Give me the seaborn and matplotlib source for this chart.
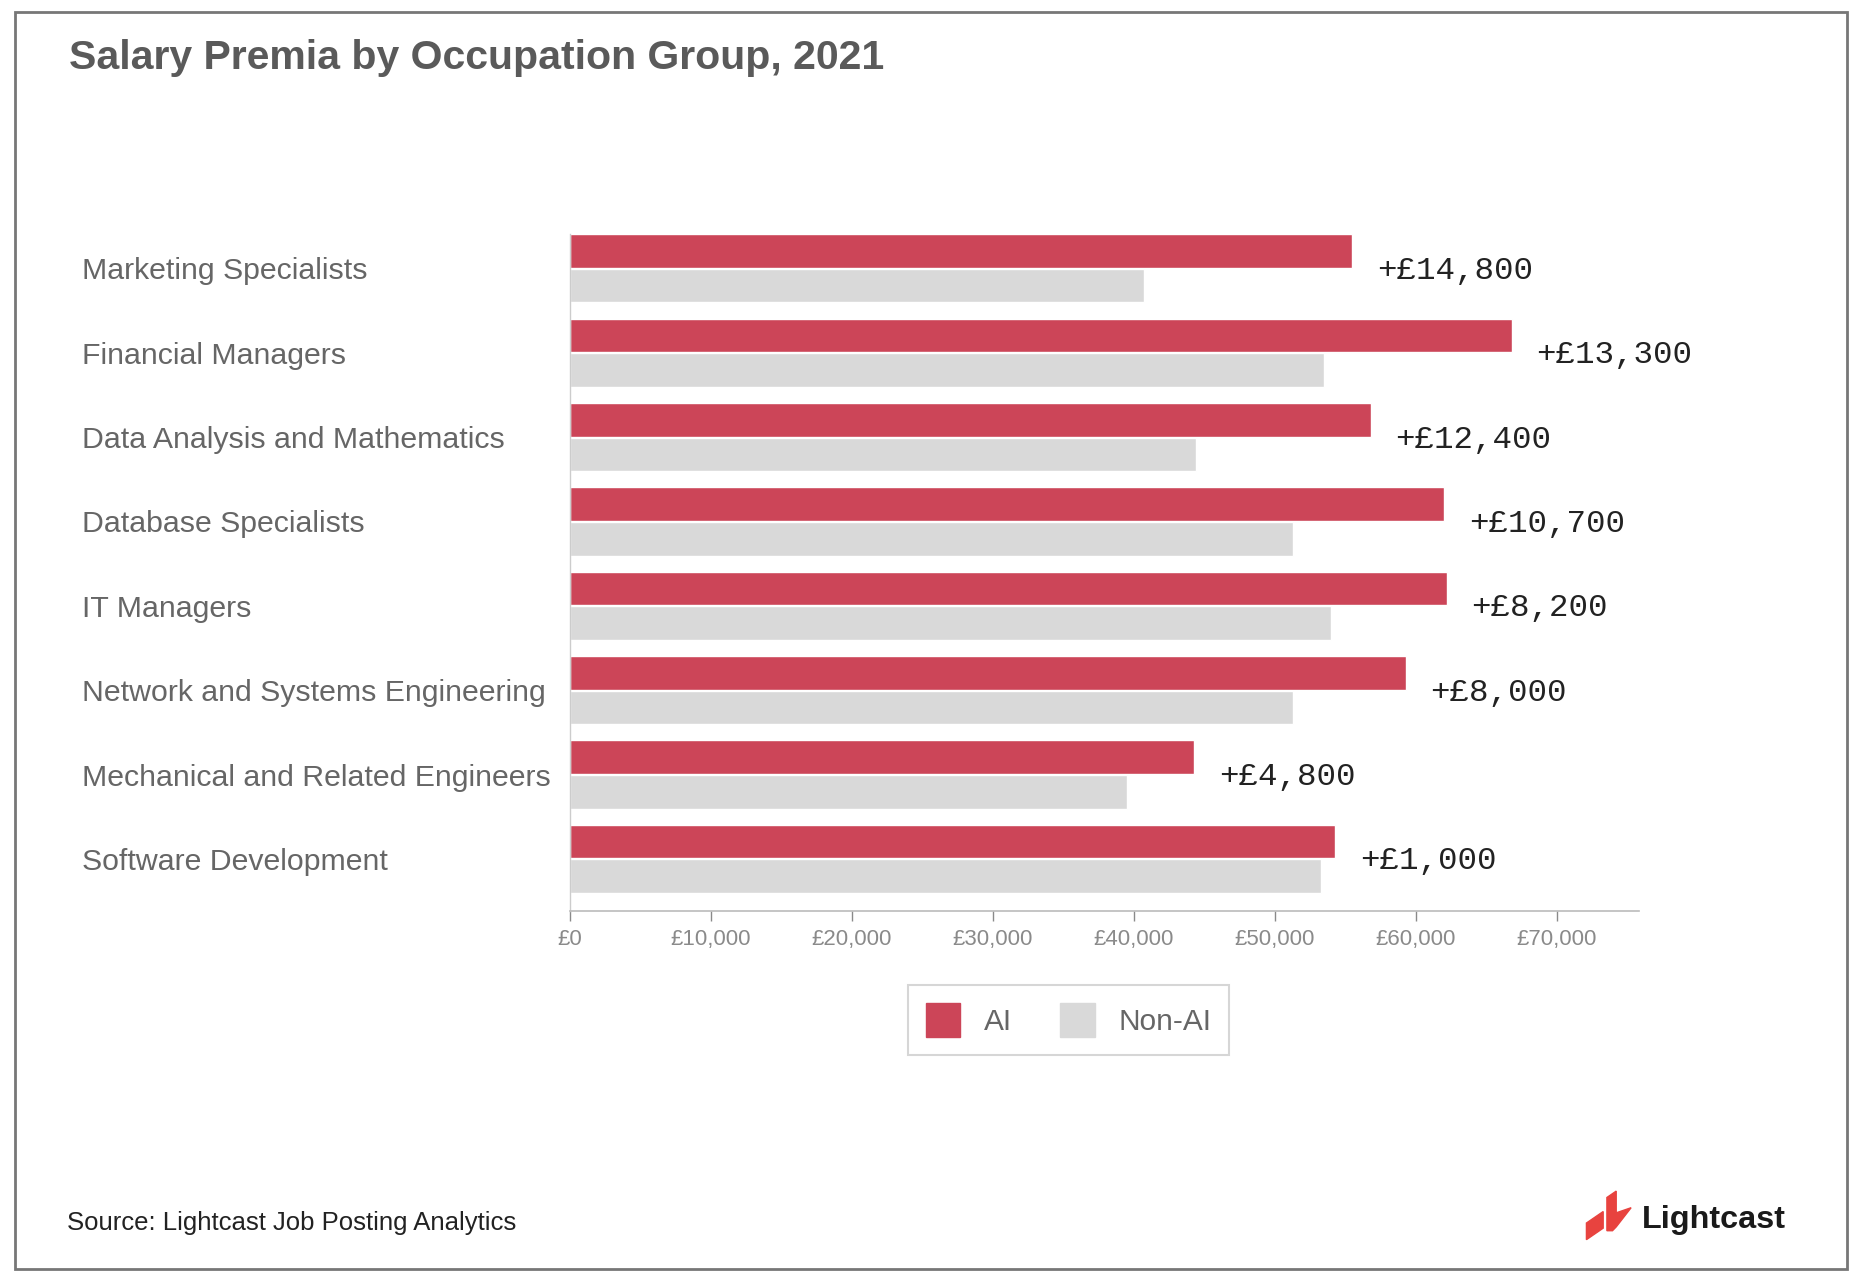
import matplotlib
matplotlib.use("Agg")
import matplotlib.pyplot as plt
import matplotlib.patches as mpatches
import matplotlib.transforms as mtransforms
import seaborn as sns
import pandas as pd
from matplotlib.ticker import FuncFormatter

occupations = [
    "Marketing Specialists",
    "Financial Managers",
    "Data Analysis and Mathematics",
    "Database Specialists",
    "IT Managers",
    "Network and Systems Engineering",
    "Mechanical and Related Engineers",
    "Software Development",
]
ai_salary = [55500, 66800, 56800, 62000, 62200, 59300, 44300, 54300]
non_ai_salary = [40700, 53500, 44400, 51300, 54000, 51300, 39500, 53300]
premia_labels = ["+£14,800", "+£13,300", "+£12,400", "+£10,700",
                 "+£8,200", "+£8,000", "+£4,800", "+£1,000"]
groups = ["AI", "Non-AI"]
x_ticks = [0, 10000, 20000, 30000, 40000, 50000, 60000, 70000]

AI_COLOR = "#cc4558"
NON_COLOR = "#d9d9d9"

df = pd.DataFrame({
    "occupation": occupations * 2,
    "salary": ai_salary + non_ai_salary,
    "group": ["AI"] * len(occupations) + ["Non-AI"] * len(occupations),
})

sns.set_theme(style="white")
plt.rcParams["font.family"] = ["Liberation Sans", "DejaVu Sans"]

fig = plt.figure(figsize=(18.62, 12.78), dpi=100)
ax = fig.add_axes([0.306, 0.287, 0.574, 0.536])

sns.barplot(data=df, y="occupation", x="salary", hue="group", orient="h",
            order=occupations, hue_order=groups,
            palette={"AI": AI_COLOR, "Non-AI": NON_COLOR},
            width=0.82, gap=0.03, saturation=1, legend=False, ax=ax,
            errorbar=None)

ax.set_xlim(0, 75800)
ax.set_ylim(7.62, -0.5)
ax.set_xticks(x_ticks)
ax.xaxis.set_major_formatter(FuncFormatter(lambda v, p: f"£{int(v):,}"))
ax.tick_params(axis="x", labelsize=16, colors="#8a8a8a", length=7, width=1,
               direction="out", pad=6, bottom=True)
ax.tick_params(axis="y", length=0, labelsize=21.8, labelcolor="#666666", pad=0)
ax.set_xlabel("")
ax.set_ylabel("")
offset = mtransforms.ScaledTranslation(-488 / 100, 0, fig.dpi_scale_trans)
for lbl in ax.get_yticklabels():
    lbl.set_horizontalalignment("left")
    lbl.set_transform(ax.get_yaxis_transform() + offset)
    lbl.set_x(0)

for s in ["top", "right"]:
    ax.spines[s].set_visible(False)
ax.spines["left"].set_color("#cccccc")
ax.spines["left"].set_bounds(7.62, -0.41)
ax.spines["bottom"].set_color("#bbbbbb")
ax.spines["left"].set_linewidth(1)
ax.spines["bottom"].set_linewidth(1.2)

for i, (v, t) in enumerate(zip(ai_salary, premia_labels)):
    ax.text(v + 1750, i + 0.03, t, va="center", ha="left", fontsize=23.4,
            family=["Liberation Mono", "DejaVu Sans Mono"], color="#222222")

handles = [mpatches.Patch(color=AI_COLOR, label="AI"),
           mpatches.Patch(color=NON_COLOR, label="Non-AI")]
leg = fig.legend(handles=handles, loc="center", bbox_to_anchor=(0.574, 0.202),
                 ncol=2, fontsize=21.5, frameon=True, fancybox=False,
                 handlelength=1.15, handleheight=1.35, columnspacing=1.6,
                 handletextpad=0.8, borderpad=0.6, borderaxespad=0,
                 labelcolor="#666666")
leg.get_frame().set_edgecolor("#cccccc")
leg.get_frame().set_linewidth(1.5)

fig.text(0.037, 0.955, "Salary Premia by Occupation Group, 2021", fontsize=29.5,
         fontweight="bold", color="#5a5a5a", va="center", ha="left")
fig.text(0.036, 0.043, "Source: Lightcast Job Posting Analytics", fontsize=18.5,
         color="#222222", va="center", ha="left")
fig.text(0.882, 0.045, "Lightcast", fontsize=23.3, fontweight="bold",
         color="#1a1a1a", va="center", ha="left")

# logo chevrons
red = "#e8433f"
fig.patches.append(mpatches.Polygon(
    [(0.852, 0.030), (0.852, 0.043), (0.861, 0.052), (0.861, 0.039)],
    closed=True, transform=fig.transFigure, color=red))
fig.patches.append(mpatches.Polygon(
    [(0.863, 0.037), (0.863, 0.063), (0.868, 0.068), (0.868, 0.051),
     (0.876, 0.055), (0.868, 0.040), (0.866, 0.037)],
    closed=True, transform=fig.transFigure, color=red))

fig.patches.append(mpatches.Rectangle((0.008, 0.0074), 0.984, 0.983,
                                      transform=fig.transFigure, fill=False,
                                      edgecolor="#777777", linewidth=2))

fig.savefig("out.png", dpi=100)
